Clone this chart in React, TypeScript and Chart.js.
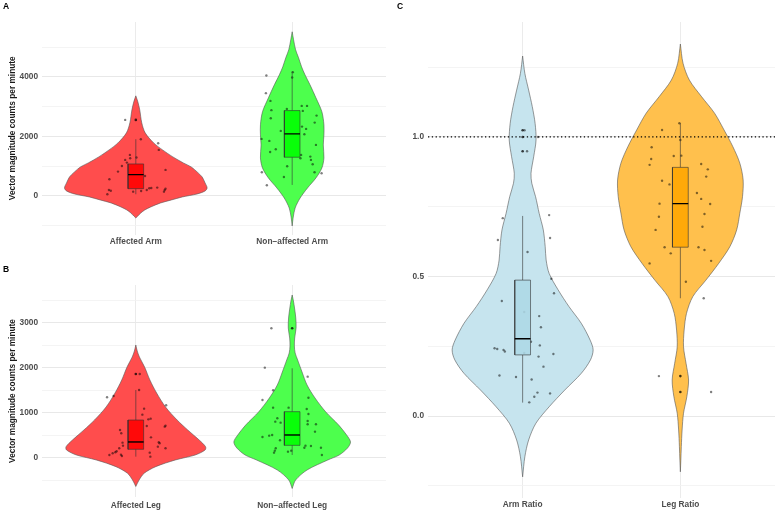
import React, { useEffect, useRef } from 'react';
import { Chart, registerables } from 'chart.js';

Chart.register(...registerables);

const FONT = "'Liberation Sans', Arial, Helvetica, sans-serif";
Chart.defaults.font.family = FONT;

// ================= Panel A : arm counts =================
const armCategories = ['Affected Arm', 'Non\u2212affected Arm'];
const armTickValues = [-1000, 0, 1000, 2000, 3000, 4000, 5000];
const armTickLabels = ['', '0', '', '2000', '', '4000', ''];
const armRange = [-1294, 5840];

const affArmDensityY = [3361, 3159, 2891, 2454, 2118, 1781, 1546, 1311, 1109, 975, 807, 639, 437, 269, 168, 67, -34, -134, -235, -370, -471, -571, -672, -739];
const affArmDensityW = [0, 0.013, 0.025, 0.038, 0.06, 0.114, 0.171, 0.237, 0.304, 0.354, 0.392, 0.424, 0.443, 0.456, 0.443, 0.392, 0.297, 0.228, 0.158, 0.095, 0.057, 0.032, 0.013, 0];
const nonArmDensityY = [5512, 5243, 4907, 4638, 4336, 4067, 3731, 3294, 2824, 2387, 2050, 1714, 1277, 941, 605, 269, -67, -403, -739, -1008];
const nonArmDensityW = [0, 0.009, 0.022, 0.041, 0.06, 0.082, 0.114, 0.152, 0.19, 0.203, 0.203, 0.199, 0.203, 0.19, 0.152, 0.098, 0.051, 0.019, 0.006, 0];

// [lower whisker, Q1, median, Q3, upper whisker]
const affArmStats = [57, 245, 716, 1075, 1905];
const nonArmStats = [370, 1300, 2083, 2866, 4177];
const affArmOutliers = [2554];
const nonArmOutliers: number[] = [];

const affArmValues = [2554, 1905, 1771, 1546, 1378, 1290, 1266, 1210, 1120, 1008, 874, 817, 672, 561, 280, 269, 258, 246, 202, 202, 202, 175, 168, 145, 145, 57];
const affArmJitter = [-0.068, 0.032, 0.143, 0.147, -0.038, 0.004, -0.036, -0.068, -0.057, -0.089, 0.19, -0.114, 0.059, -0.169, 0.137, 0.099, 0.086, 0.19, 0.07, 0.185, -0.172, -0.16, 0.034, -0.017, 0.18, -0.182];
const nonArmValues = [4042, 4156, 3975, 3451, 3192, 2880, 2923, 3024, 3024, 2856, 2698, 2611, 2463, 2329, 2251, 2184, 2073, 1915, 1848, 1714, 1569, 1478, 1378, 1266, 1321, 1210, 1065, 998, 796, 796, 763, 638, 360];
const nonArmJitter = [-0.165, 0.004, 0, -0.168, -0.139, -0.133, -0.034, 0.061, 0.095, 0.068, 0.156, -0.137, 0.144, 0.063, 0.089, -0.073, 0.078, -0.196, -0.146, 0.152, -0.105, -0.141, 0.057, 0.053, 0.116, 0.12, 0.131, -0.032, -0.194, 0.143, 0.188, -0.053, -0.162];

// ================= Panel B : leg counts =================
const legCategories = ['Affected Leg', 'Non\u2212affected Leg'];
const legTickValues = [-500, 0, 500, 1000, 1500, 2000, 2500, 3000, 3500];
const legTickLabels = ['', '0', '', '1000', '', '2000', '', '3000', ''];
const legRange = [-867, 3844];

const affLegDensityY = [2511, 2378, 2244, 2022, 1733, 1444, 1133, 844, 622, 400, 251, 178, 67, -44, -193, -340, -489, -633];
const affLegDensityW = [0, 0.009, 0.023, 0.056, 0.09, 0.133, 0.19, 0.264, 0.332, 0.405, 0.446, 0.443, 0.38, 0.253, 0.127, 0.053, 0.021, 0];
const nonLegDensityY = [3622, 3489, 3333, 3111, 2889, 2666, 2489, 2333, 2178, 1911, 1622, 1333, 1022, 733, 511, 356, 222, 67, -44, -267, -489, -678];
const nonLegDensityW = [0, 0.008, 0.015, 0.023, 0.025, 0.016, 0.014, 0.019, 0.035, 0.063, 0.095, 0.146, 0.215, 0.297, 0.348, 0.373, 0.354, 0.301, 0.228, 0.095, 0.022, 0];

const affLegStats = [30, 193, 356, 844, 1511];
const nonLegStats = [67, 281, 511, 1029, 1993];
const affLegOutliers = [1867];
const nonLegOutliers = [2882];

const affLegValues = [1867, 1348, 1378, 1511, 1171, 1096, 963, 859, 874, 711, 696, 718, 622, 548, 459, 341, 274, 348, 326, 252, 215, 215, 148, 126, 104, 67, 74, 44, 119, 30];
const affLegJitter = [0.025, -0.184, -0.142, 0.021, 0.194, 0.053, 0.042, 0.08, 0.095, 0.07, 0.185, 0.19, -0.101, -0.093, 0.097, -0.085, -0.082, 0.147, 0.152, 0.141, 0.19, -0.106, -0.123, -0.131, -0.148, -0.169, -0.095, -0.089, 0.089, 0.093];
const nonLegValues = [2882, 2007, 1807, 1504, 1289, 1340, 1118, 1118, 1089, 978, 882, 807, 785, 822, 748, 748, 585, 467, 496, 511, 393, 274, 229, 267, 229, 67, 215, 163, 119, 141, 163];
const nonLegJitter = [-0.133, -0.175, 0.099, -0.122, -0.19, 0.104, -0.122, -0.023, 0.093, 0.104, -0.095, -0.108, -0.074, 0.099, 0.099, 0.152, 0.146, -0.19, -0.147, -0.128, -0.078, 0.085, 0.078, 0.12, 0.184, 0.19, -0.105, -0.111, -0.116, -0.027, -0.006];

// ================= Panel C : ratios =================
const ratioCategories = ['Arm Ratio', 'Leg Ratio'];
const ratioTickValues = [-0.25, 0, 0.25, 0.5, 0.75, 1.0, 1.25];
const ratioTickLabels = ['', '0.0', '', '0.5', '', '1.0', ''];
const ratioRange = [-0.292, 1.412];
const ratioReference = 1.0;

const armRatioDensityY = [1.29, 1.228, 1.168, 1.109, 1.049, 0.989, 0.929, 0.87, 0.834, 0.786, 0.726, 0.667, 0.607, 0.559, 0.511, 0.452, 0.392, 0.332, 0.272, 0.237, 0.201, 0.153, 0.093, 0.033, -0.026, -0.086, -0.146, -0.218];
const armRatioDensityW = [0, 0.014, 0.038, 0.061, 0.079, 0.085, 0.07, 0.053, 0.058, 0.082, 0.105, 0.131, 0.143, 0.149, 0.168, 0.225, 0.294, 0.372, 0.428, 0.447, 0.43, 0.372, 0.267, 0.168, 0.084, 0.038, 0.014, 0];
const legRatioDensityY = [1.333, 1.264, 1.204, 1.144, 1.085, 1.025, 0.965, 0.906, 0.846, 0.786, 0.727, 0.667, 0.607, 0.547, 0.487, 0.428, 0.368, 0.308, 0.248, 0.189, 0.129, 0.069, 0.01, -0.05, -0.11, -0.158, -0.2];
const legRatioDensityW = [0, 0.017, 0.057, 0.135, 0.217, 0.277, 0.333, 0.377, 0.398, 0.394, 0.377, 0.357, 0.314, 0.243, 0.162, 0.079, 0.039, 0.024, 0.02, 0.036, 0.052, 0.041, 0.02, 0.011, 0.006, 0.003, 0];

const armRatioStats = [0.048, 0.219, 0.277, 0.487, 0.717];
const legRatioStats = [0.422, 0.605, 0.761, 0.891, 1.049];
const armRatioOutliers = [1.024, 1.0, 0.949];
const legRatioOutliers = [0.143, 0.086];

const armRatioValues = [1.024, 1.0, 0.949, 0.709, 0.72, 0.638, 0.631, 0.588, 0.492, 0.44, 0.412, 0.373, 0.358, 0.318, 0.266, 0.253, 0.243, 0.24, 0.237, 0.231, 0.226, 0.222, 0.213, 0.177, 0.145, 0.14, 0.131, 0.084, 0.081, 0.069, 0.049];
const armRatioJitter = [0.012, 0.097, 0.028, -0.126, 0.168, 0.174, -0.157, 0.031, 0.182, 0.199, -0.132, 0.01, 0.105, 0.116, 0.053, 0.109, -0.178, -0.161, -0.121, -0.113, 0.01, 0.195, 0.101, 0.132, -0.147, -0.042, 0.057, 0.094, 0.174, 0.074, 0.042];
const legRatioValues = [1.049, 1.025, 0.989, 0.963, 0.932, 0.933, 0.921, 0.9, 0.903, 0.884, 0.858, 0.843, 0.83, 0.799, 0.778, 0.76, 0.761, 0.724, 0.714, 0.678, 0.667, 0.605, 0.605, 0.595, 0.583, 0.556, 0.547, 0.481, 0.422, 0.143, 0.086];
const legRatioJitter = [-0.006, -0.116, 0, -0.182, -0.042, 0.006, -0.185, -0.195, 0.132, 0.174, 0.164, -0.116, -0.069, 0.105, 0.132, 0.189, -0.132, 0.153, -0.136, 0.14, -0.157, -0.1, 0.115, 0.153, -0.061, 0.195, -0.195, 0.035, 0.148, -0.136, 0.195];

const Y_TITLE = 'Vector magnitude counts per minute';

// ================= styling / building =================
const BOX_HALF = 0.05;
const INK = '#333333';

type Group = {
  densityY: number[];
  densityW: number[];
  stats: number[];
  outliers: number[];
  values: number[];
  jitter: number[];
  violinFill: string;
  boxFill: string;
};

type PanelSpec = {
  categories: string[];
  groups: Group[];
  range: number[];
  tickValues: number[];
  tickLabels: string[];
  yTitle?: string;
  refLine?: number;
  yAxisW: number;
  xAxisH: number;
  padTop: number;
  padRight: number;
  xPad: number;
};

function violinOutline(center: number, ys: number[], ws: number[]) {
  const right = ys.map((y, i) => ({ x: center + ws[i], y }));
  const left = ys.map((y, i) => ({ x: center - ws[i], y })).reverse();
  return right.concat(left);
}

function makeConfig(spec: PanelSpec): any {
  const datasets: any[] = [];
  spec.groups.forEach((g, gi) => {
    const c = gi + 1;
    datasets.push({
      data: violinOutline(c, g.densityY, g.densityW),
      backgroundColor: g.violinFill,
      borderColor: '#555555',
      borderWidth: 0.6,
      fill: 'shape',
      pointRadius: 0,
      tension: 0.3,
      order: 10,
    });
    datasets.push({
      data: g.values.map((v, i) => ({ x: c + g.jitter[i], y: v })),
      showLine: false,
      pointRadius: 1.2,
      pointBackgroundColor: 'rgba(0,0,0,0.5)',
      pointBorderWidth: 0,
      borderColor: 'rgba(0,0,0,0)',
      order: 8,
    });
    datasets.push({
      data: [{ x: c, y: g.stats[0] }, { x: c, y: g.stats[1] }],
      borderColor: INK,
      borderWidth: 0.6,
      pointRadius: 0,
      order: 7,
    });
    datasets.push({
      data: [{ x: c, y: g.stats[3] }, { x: c, y: g.stats[4] }],
      borderColor: INK,
      borderWidth: 0.6,
      pointRadius: 0,
      order: 7,
    });
    datasets.push({
      data: [
        { x: c - BOX_HALF, y: g.stats[1] },
        { x: c + BOX_HALF, y: g.stats[1] },
        { x: c + BOX_HALF, y: g.stats[3] },
        { x: c - BOX_HALF, y: g.stats[3] },
        { x: c - BOX_HALF, y: g.stats[1] },
      ],
      backgroundColor: g.boxFill,
      borderColor: INK,
      borderWidth: 0.6,
      fill: 'shape',
      pointRadius: 0,
      tension: 0,
      order: 6,
    });
    datasets.push({
      data: [{ x: c - BOX_HALF, y: g.stats[2] }, { x: c + BOX_HALF, y: g.stats[2] }],
      borderColor: '#000000',
      borderWidth: 1.4,
      pointRadius: 0,
      order: 5,
    });
    datasets.push({
      data: g.outliers.map((v) => ({ x: c, y: v })),
      showLine: false,
      pointRadius: 1.3,
      pointBackgroundColor: 'rgba(0,0,0,0.75)',
      pointBorderWidth: 0,
      borderColor: 'rgba(0,0,0,0)',
      order: 4,
    });
  });
  if (spec.refLine !== undefined) {
    datasets.push({
      data: [{ x: 0.4, y: spec.refLine }, { x: 2.6, y: spec.refLine }],
      borderColor: '#000000',
      borderWidth: 1.3,
      borderDash: [1.3, 2.5],
      pointRadius: 0,
      order: 0,
    });
  }

  return {
    type: 'line',
    data: { datasets },
    options: {
      responsive: false,
      animation: false,
      events: [],
      indexAxis: 'y',
      layout: { padding: { top: spec.padTop, right: spec.padRight, left: 0, bottom: 0 } },
      plugins: {
        legend: { display: false },
        tooltip: { enabled: false },
        colors: { enabled: false },
      },
      scales: {
        x: {
          type: 'linear',
          min: 0.4,
          max: 2.6,
          afterBuildTicks: (axis: any) => {
            axis.ticks = spec.categories.map((_, i) => ({ value: i + 1 }));
          },
          ticks: {
            callback: (_v: any, i: number) => spec.categories[i],
            font: { size: 8.3, weight: 'bold' },
            color: '#4d4d4d',
            padding: spec.xPad,
            autoSkip: false,
            maxRotation: 0,
            minRotation: 0,
          },
          grid: { color: '#ebebeb', lineWidth: 1, drawTicks: false },
          border: { display: false },
          afterFit: (s: any) => {
            s.height = spec.xAxisH;
          },
        },
        y: {
          type: 'linear',
          min: spec.range[0],
          max: spec.range[1],
          afterBuildTicks: (axis: any) => {
            axis.ticks = spec.tickValues.map((v) => ({ value: v }));
          },
          ticks: {
            callback: (_v: any, i: number) => spec.tickLabels[i],
            font: { size: 8.3, weight: 'bold' },
            color: '#4d4d4d',
            padding: 4,
            autoSkip: false,
          },
          grid: {
            color: (ctx: any) => (spec.tickLabels[ctx.index] ? '#e8e8e8' : '#f1f1f1'),
            lineWidth: (ctx: any) => (spec.tickLabels[ctx.index] ? 1 : 0.8),
            drawTicks: false,
          },
          border: { display: false },
          title: spec.yTitle
            ? {
                display: true,
                text: spec.yTitle,
                font: { size: 8.3, weight: 'bold' },
                color: '#1a1a1a',
                padding: { top: 8, bottom: 0 },
              }
            : { display: false },
          afterFit: (s: any) => {
            s.width = spec.yAxisW;
          },
        },
      },
    },
  };
}

const panelA: PanelSpec = {
  categories: armCategories,
  groups: [
    { densityY: affArmDensityY, densityW: affArmDensityW, stats: affArmStats, outliers: affArmOutliers, values: affArmValues, jitter: affArmJitter, violinFill: '#FF4D4D', boxFill: 'rgba(255,0,0,0.88)' },
    { densityY: nonArmDensityY, densityW: nonArmDensityW, stats: nonArmStats, outliers: nonArmOutliers, values: nonArmValues, jitter: nonArmJitter, violinFill: '#4DFF4D', boxFill: 'rgba(0,255,0,0.88)' },
  ],
  range: armRange,
  tickValues: armTickValues,
  tickLabels: armTickLabels,
  yTitle: Y_TITLE,
  yAxisW: 42,
  xAxisH: 15.5,
  padTop: 22,
  padRight: 1,
  xPad: 2,
};

const panelB: PanelSpec = {
  categories: legCategories,
  groups: [
    { densityY: affLegDensityY, densityW: affLegDensityW, stats: affLegStats, outliers: affLegOutliers, values: affLegValues, jitter: affLegJitter, violinFill: '#FF4D4D', boxFill: 'rgba(255,0,0,0.88)' },
    { densityY: nonLegDensityY, densityW: nonLegDensityW, stats: nonLegStats, outliers: nonLegOutliers, values: nonLegValues, jitter: nonLegJitter, violinFill: '#4DFF4D', boxFill: 'rgba(0,255,0,0.88)' },
  ],
  range: legRange,
  tickValues: legTickValues,
  tickLabels: legTickLabels,
  yTitle: Y_TITLE,
  yAxisW: 42,
  xAxisH: 15,
  padTop: 35,
  padRight: 1,
  xPad: 3.5,
};

const panelC: PanelSpec = {
  categories: ratioCategories,
  groups: [
    { densityY: armRatioDensityY, densityW: armRatioDensityW, stats: armRatioStats, outliers: armRatioOutliers, values: armRatioValues, jitter: armRatioJitter, violinFill: '#C6E4EE', boxFill: 'rgba(173,216,230,0.88)' },
    { densityY: legRatioDensityY, densityW: legRatioDensityW, stats: legRatioStats, outliers: legRatioOutliers, values: legRatioValues, jitter: legRatioJitter, violinFill: '#FFC04D', boxFill: 'rgba(255,165,0,0.88)' },
  ],
  range: ratioRange,
  tickValues: ratioTickValues,
  tickLabels: ratioTickLabels,
  refLine: ratioReference,
  yAxisW: 38,
  xAxisH: 14.5,
  padTop: 22,
  padRight: 2,
  xPad: 2.5,
};

function ChartCanvas(props: { spec: PanelSpec; left: number; top: number; width: number; height: number }) {
  const { spec, left, top, width, height } = props;
  const ref = useRef<HTMLCanvasElement | null>(null);
  useEffect(() => {
    const chart = new Chart(ref.current as HTMLCanvasElement, makeConfig(spec));
    return () => chart.destroy();
  }, [spec]);
  return (
    <canvas
      ref={ref}
      width={width}
      height={height}
      style={{ position: 'absolute', left, top, width, height }}
    />
  );
}

const letterStyle = (left: number, top: number): React.CSSProperties => ({
  position: 'absolute',
  left,
  top,
  fontFamily: FONT,
  fontWeight: 'bold',
  fontSize: '8.5px',
  lineHeight: '8.5px',
  color: '#000',
});

export default function App() {
  return (
    <div
      style={{
        position: 'absolute',
        left: 0,
        top: 0,
        width: 779,
        height: 512,
        background: '#ffffff',
        overflow: 'hidden',
      }}
    >
      <ChartCanvas spec={panelA} left={0} top={0} width={390} height={250} />
      <ChartCanvas spec={panelB} left={0} top={250} width={390} height={262} />
      <ChartCanvas spec={panelC} left={390} top={0} width={389} height={512} />
      <div style={letterStyle(3, 2)}>A</div>
      <div style={letterStyle(3, 265)}>B</div>
      <div style={letterStyle(397, 2)}>C</div>
    </div>
  );
}
